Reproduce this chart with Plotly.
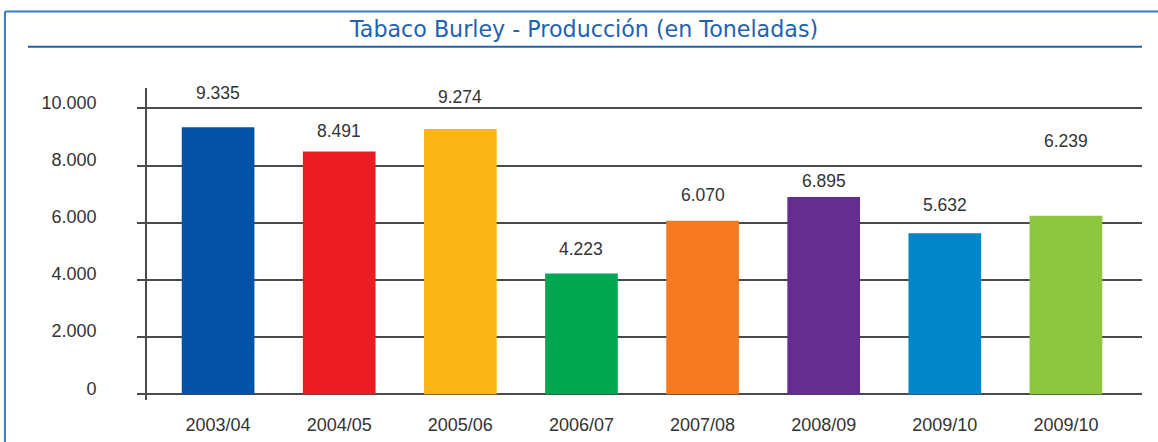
import plotly.graph_objects as go

# ---- data ----
categories = ["2003/04", "2004/05", "2005/06", "2006/07", "2007/08", "2008/09", "2009/10", "2009/10"]
production = [9335, 8491, 9274, 4223, 6070, 6895, 5632, 6239]
bar_colors = ["#0452a5", "#ec1c24", "#fbb617", "#00a650", "#f47920", "#662d91", "#0085c9", "#8dc63f"]
y_tickvals = [0, 2000, 4000, 6000, 8000, 10000]
y_ticktext = ["0", "2.000", "4.000", "6.000", "8.000", "10.000"]
title_text = "Tabaco Burley - Producción (en Toneladas)"

# label offsets above bar tops (px), as in the reference
label_offsets = [34, 20, 32, 25, 26, 16, 28, 75]

W, H = 1158, 442
ML, MR, MT, MB = 147, 16.3, 88, 42
PW = W - ML - MR
PH = H - MT - MB


def px_x(px):
    return (px - ML) / PW


def px_y(py):
    return (H - MB - py) / PH


xs = list(range(len(categories)))

fig = go.Figure()
fig.add_trace(go.Bar(
    x=xs, y=production, marker=dict(color=bar_colors, line=dict(width=0)),
    width=0.6, showlegend=False, hoverinfo="skip",
))

for x, v, off in zip(xs, production, label_offsets):
    fig.add_annotation(
        x=x, y=v, text=f"{v:,}".replace(",", "."), showarrow=False,
        yanchor="middle", xanchor="center", yshift=off,
        font=dict(family="Liberation Sans, Arial, sans-serif", size=17.5, color="#333333"),
    )

frame_color = "#3b7cc4"
title_color = "#1f62b0"
shapes = [
    # outer frame: top and left
    dict(type="line", xref="paper", yref="paper", x0=px_x(5), x1=px_x(1160), y0=px_y(11.5), y1=px_y(11.5),
         line=dict(color=frame_color, width=2)),
    dict(type="line", xref="paper", yref="paper", x0=px_x(5), x1=px_x(5), y0=px_y(11.5), y1=px_y(445),
         line=dict(color=frame_color, width=2)),
    # title underline
    dict(type="line", xref="paper", yref="paper", x0=px_x(28), x1=px_x(1141.7), y0=px_y(46.7), y1=px_y(46.7),
         line=dict(color=title_color, width=2)),
]

fig.update_layout(
    width=W, height=H,
    margin=dict(l=ML, r=MR, t=MT, b=MB, pad=0, autoexpand=False),
    paper_bgcolor="white", plot_bgcolor="white",
    title=dict(text=title_text, x=584 / W, xanchor="center", xref="container",
               y=1 - 29 / H, yanchor="middle", yref="container", automargin=False,
               font=dict(family="DejaVu Sans, sans-serif", size=22.2, color=title_color)),
    shapes=shapes,
    bargap=0.4,
    font=dict(family="Liberation Sans, Arial, sans-serif", color="#333333"),
)

fig.update_xaxes(
    range=[-0.587, 7.628], tickmode="array", tickvals=xs, ticktext=categories,
    showgrid=False, zeroline=False, showline=False, ticks="",
    ticklabelstandoff=12, automargin=False,
    tickfont=dict(family="Liberation Sans, Arial, sans-serif", size=18, color="#333333"),
)
fig.update_yaxes(
    range=[-199, 10710], tickmode="array", tickvals=y_tickvals, ticktext=y_ticktext,
    showgrid=True, gridcolor="#4a4a4a", gridwidth=1.6, zeroline=False,
    showline=True, linecolor="#4a4a4a", linewidth=1.6,
    ticks="outside", ticklen=8, tickcolor="#4a4a4a", tickwidth=1.6,
    ticklabelshift=-6, ticklabelstandoff=37, automargin=False,
    tickfont=dict(family="Liberation Sans, Arial, sans-serif", size=18, color="#333333"),
)

fig.write_html(
    "out.html",
    config={"displayModeBar": False},
    post_script="document.body.style.margin='0';document.body.style.padding='0';"
                "document.documentElement.style.overflow='hidden';",
)
